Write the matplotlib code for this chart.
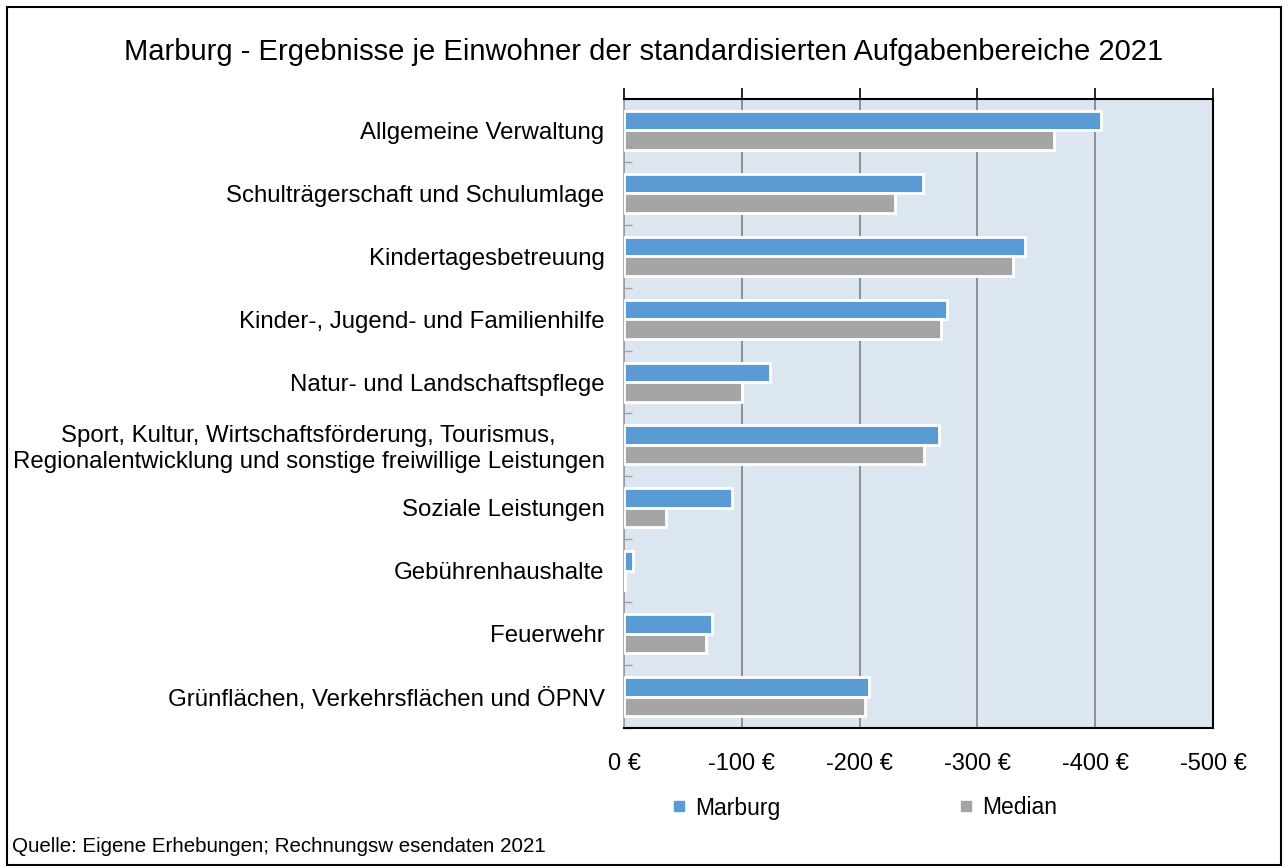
import matplotlib
matplotlib.use("Agg")
from matplotlib import pyplot as plt
from matplotlib.patches import Rectangle
from matplotlib.lines import Line2D
from matplotlib.ticker import FuncFormatter, FixedLocator
import numpy as np

categories = [
    "Allgemeine Verwaltung",
    "Schulträgerschaft und Schulumlage",
    "Kindertagesbetreuung",
    "Kinder-, Jugend- und Familienhilfe",
    "Natur- und Landschaftspflege",
    "Sport, Kultur, Wirtschaftsförderung, Tourismus,\nRegionalentwicklung und sonstige freiwillige Leistungen",
    "Soziale Leistungen",
    "Gebührenhaushalte",
    "Feuerwehr",
    "Grünflächen, Verkehrsflächen und ÖPNV",
]
marburg = [-405, -254, -340, -274, -124, -267, -92, -7.5, -75, -208]
median = [-365, -230, -330, -269, -100, -255, -36, -0.5, -70, -205]
x_ticks = [0, -100, -200, -300, -400, -500]

plt.rcParams["font.family"] = ["Liberation Sans", "DejaVu Sans"]

fig = plt.figure(figsize=(12.88, 8.66), dpi=100)
ax = fig.add_axes([624 / 1288, 1 - 728 / 866, (1213 - 624) / 1288, (728 - 99) / 866])

y = np.arange(len(categories))
h = 0.31
ax.barh(y - h / 2, marburg, height=h, color="#5B9BD5", edgecolor="white", linewidth=2, label="Marburg", zorder=3)
ax.barh(y + h / 2, median, height=h, color="#A5A5A5", edgecolor="white", linewidth=2, label="Median", zorder=3)

ax.set_facecolor("#DCE6F1")
ax.set_xlim(0, -500)
ax.set_ylim(len(categories) - 0.5, -0.5)
ax.xaxis.set_major_locator(FixedLocator(x_ticks))
ax.xaxis.set_major_formatter(FuncFormatter(lambda v, p: f"{int(v)} €"))
ax.grid(axis="x", color="#808080", linewidth=1.2, zorder=1)
ax.tick_params(axis="x", top=True, bottom=False, labeltop=False, labelbottom=True,
               direction="out", length=8, width=1.2, labelsize=17, pad=10)

ax.set_yticks(y)
ax.set_yticklabels(categories, fontsize=17.3)
ax.yaxis.set_minor_locator(FixedLocator(np.arange(-0.5, len(categories), 1)))
ax.tick_params(axis="y", which="major", length=0, pad=14)
ax.tick_params(axis="y", which="minor", direction="in", length=6, color="#A0A0A0", width=1)
for lab in ax.get_yticklabels():
    lab.set_multialignment("center")

for s in ["top", "bottom", "right"]:
    ax.spines[s].set_color("black")
    ax.spines[s].set_linewidth(1.5)
ax.spines["left"].set_color("#A0A0A0")
ax.spines["left"].set_linewidth(1.2)

fig.text(0.5, 1 - 52 / 866, "Marburg - Ergebnisse je Einwohner der standardisierten Aufgabenbereiche 2021",
         ha="center", va="center", fontsize=21)

handles = [Line2D([], [], marker="s", linestyle="", color="#5B9BD5", markersize=7),
           Line2D([], [], marker="s", linestyle="", color="#A5A5A5", markersize=7)]
fig.legend(handles, ["Marburg", "Median"], loc="center", bbox_to_anchor=(862 / 1288, 1 - 808 / 866),
           ncol=2, frameon=False, fontsize=16.5, columnspacing=7.6, handletextpad=0.2, handlelength=1)

fig.text(12 / 1288, 1 - 846 / 866, "Quelle: Eigene Erhebungen; Rechnungsw esendaten 2021",
         ha="left", va="center", fontsize=14.8)

fig.patches.append(Rectangle((7 / 1288, 1 / 866), 1274 / 1288, 858 / 866, transform=fig.transFigure,
                             fill=False, edgecolor="black", linewidth=1.5))

fig.savefig("out.png", dpi=100)
